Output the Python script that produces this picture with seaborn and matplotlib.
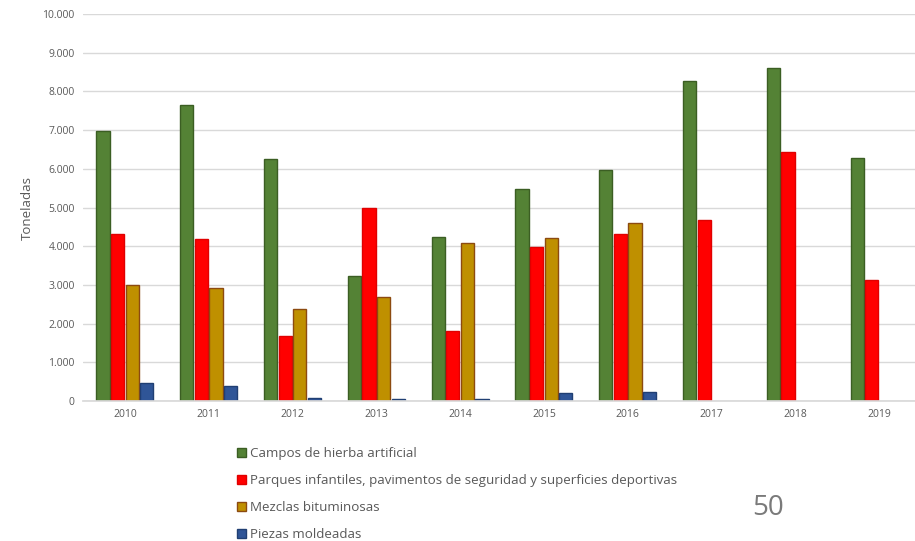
import numpy as np
import matplotlib
matplotlib.use("Agg")
import matplotlib.pyplot as plt
from matplotlib.ticker import FuncFormatter
import seaborn as sns
import pandas as pd

years = ["2010", "2011", "2012", "2013", "2014", "2015", "2016", "2017", "2018", "2019"]
series = ["Campos de hierba artificial",
          "Parques infantiles, pavimentos de seguridad y superficies deportivas",
          "Mezclas bituminosas",
          "Piezas moldeadas"]
campos = [6980, 7650, 6260, 3240, 4240, 5490, 5960, 8280, 8600, 6270]
parques = [4310, 4190, 1670, 5000, 1810, 3970, 4310, 4670, 6440, 3120]
mezclas = [3010, 2910, 2390, 2700, 4070, 4220, 4610, np.nan, np.nan, np.nan]
piezas = [470, 380, 90, 40, 40, 210, 220, np.nan, np.nan, np.nan]

fills = ["#548235", "#ff0000", "#bf9000", "#2f5597"]
edges = ["#3b5e23", "#e00000", "#8c4a10", "#203f73"]

rows = []
for name, vals in zip(series, [campos, parques, mezclas, piezas]):
    for y, v in zip(years, vals):
        if not np.isnan(v):
            rows.append({"year": y, "serie": name, "t": v})
df = pd.DataFrame(rows)

sns.set_theme(style="white")
plt.rcParams['font.family'] = ['Open Sans', 'DejaVu Sans']
grey = "#595959"

fig = plt.figure(figsize=(9.15, 5.41), dpi=100)
ax = fig.add_axes([83 / 915, 1 - 401 / 541, 838 / 915, 387 / 541])

sns.barplot(data=df, x="year", y="t", hue="serie", order=years, hue_order=series,
            palette=fills, width=0.7, gap=0.1, errorbar=None, ax=ax, legend=False,
            saturation=1, linewidth=1)

for patch in ax.patches:
    fc = matplotlib.colors.to_hex(patch.get_facecolor())
    if fc in fills:
        patch.set_edgecolor(edges[fills.index(fc)])

ax.set_ylim(0, 10000)
ax.set_yticks(range(0, 10001, 1000))
ax.yaxis.set_major_formatter(FuncFormatter(lambda v, p: f"{int(v):,}".replace(",", ".")))
ax.grid(axis="y", color="#d9d9d9", linewidth=1)
ax.set_axisbelow(True)
for s in ["top", "right", "left"]:
    ax.spines[s].set_visible(False)
ax.spines["bottom"].set_color("#d9d9d9")
ax.tick_params(axis="both", length=0, labelsize=7.5, labelcolor=grey, pad=6)
ax.set_xlabel("")
ax.set_ylabel("Toneladas", fontsize=9.5, color=grey, labelpad=6)

handles = [matplotlib.patches.Patch(facecolor=f, edgecolor=e) for f, e in zip(fills, edges)]
fig.legend(handles, series, loc="upper left", bbox_to_anchor=(225 / 915, 1 - 435 / 541),
           frameon=False, fontsize=9.6, labelcolor=grey, handlelength=0.7, handleheight=0.7,
           handletextpad=0.3, labelspacing=1.05)

fig.text(768 / 915, 1 - 508 / 541, "50", fontsize=20, color="#7a7a7a", ha="center", va="center")

fig.savefig("out.png", dpi=100)
